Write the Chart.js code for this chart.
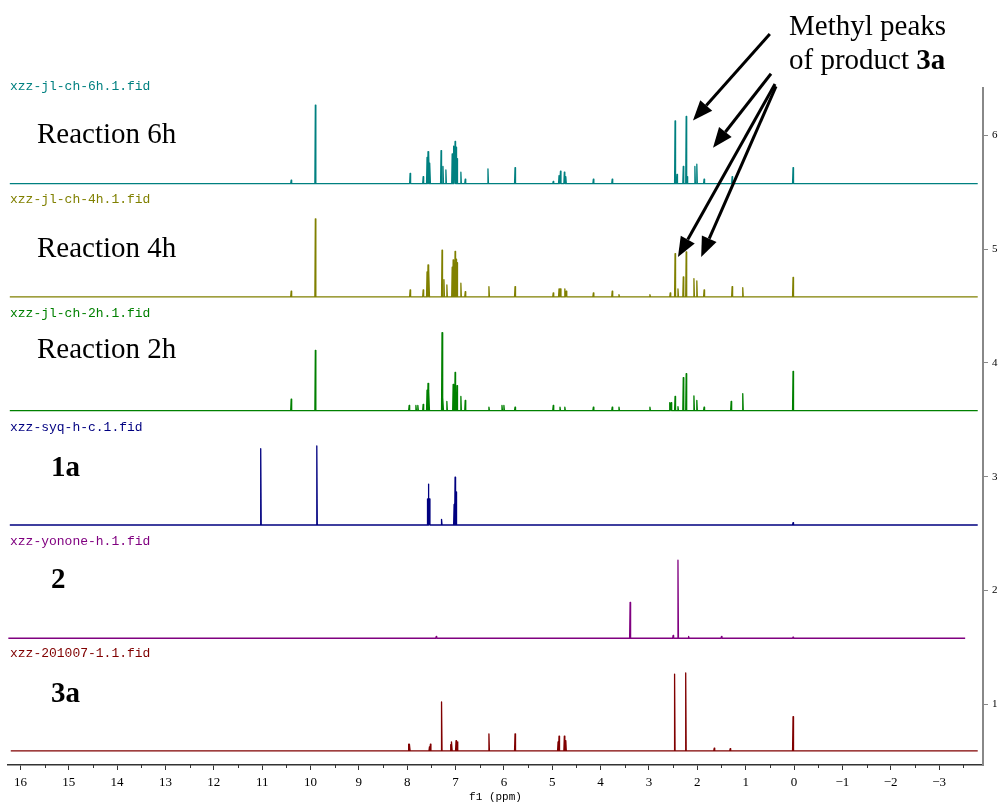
<!DOCTYPE html>
<html>
<head>
<meta charset="utf-8">
<script src="https://cdn.jsdelivr.net/npm/chart.js@4/dist/chart.umd.min.js"></script>
<style>
html, body { margin: 0; padding: 0; background: #fff; }
#wrap { width: 1003px; height: 804px; }
</style>
</head>
<body>
<div id="wrap"><canvas id="nmr" width="1003" height="804"></canvas></div>
<script>
// axis ticks
const ppmTicks = [16, 15, 14, 13, 12, 11, 10, 9, 8, 7, 6, 5, 4, 3, 2, 1, 0, -1, -2, -3];
const stackTicks = [1, 2, 3, 4, 5, 6];

// spectra, top to bottom
const fileNames = ['xzz-jl-ch-6h.1.fid', 'xzz-jl-ch-4h.1.fid', 'xzz-jl-ch-2h.1.fid',
                   'xzz-syq-h-c.1.fid', 'xzz-yonone-h.1.fid', 'xzz-201007-1.1.fid'];
const sampleNames = ['Reaction 6h', 'Reaction 4h', 'Reaction 2h', '1a', '2', '3a'];
const baselines = [5.575, 4.58, 3.58, 2.575, 1.58, 0.59];
const spanStart = [16.22, 16.22, 16.22, 16.22, 16.25, 16.2];
const spanEnd = [-3.8, -3.8, -3.8, -3.8, -3.54, -3.8];

// peak shifts (ppm) and heights
const shifts6h = [10.40, 9.90, 7.94, 7.67, 7.59, 7.57, 7.55, 7.53, 7.30, 7.26, 7.20, 7.07, 7.04, 7.01, 6.99, 6.97, 6.89, 6.80, 6.33, 5.77, 4.98, 4.86, 4.83, 4.75, 4.72, 4.15, 3.76, 2.46, 2.42, 2.29, 2.23, 2.21, 2.05, 2.01, 1.86, 1.28, 0.02];
const heights6h = [0.03, 0.69, 0.09, 0.06, 0.23, 0.28, 0.26, 0.18, 0.29, 0.15, 0.12, 0.26, 0.33, 0.37, 0.32, 0.22, 0.10, 0.04, 0.13, 0.14, 0.02, 0.07, 0.11, 0.10, 0.06, 0.04, 0.04, 0.55, 0.08, 0.15, 0.59, 0.06, 0.15, 0.17, 0.04, 0.06, 0.14];

const shifts4h = [10.40, 9.90, 7.94, 7.67, 7.59, 7.57, 7.55, 7.28, 7.24, 7.18, 7.07, 7.05, 7.01, 6.99, 6.97, 6.89, 6.80, 6.31, 5.77, 4.98, 4.86, 4.83, 4.74, 4.71, 4.15, 3.76, 3.62, 2.98, 2.56, 2.46, 2.40, 2.29, 2.23, 2.07, 2.01, 1.86, 1.28, 1.06, 0.02];
const heights4h = [0.05, 0.685, 0.06, 0.06, 0.22, 0.28, 0.25, 0.41, 0.15, 0.105, 0.26, 0.325, 0.40, 0.33, 0.30, 0.12, 0.045, 0.09, 0.09, 0.035, 0.07, 0.07, 0.07, 0.05, 0.035, 0.05, 0.02, 0.02, 0.035, 0.38, 0.07, 0.175, 0.395, 0.16, 0.14, 0.06, 0.09, 0.08, 0.17];

const shifts2h = [10.40, 9.90, 7.96, 7.82, 7.78, 7.67, 7.59, 7.57, 7.55, 7.28, 7.26, 7.18, 7.05, 7.01, 6.97, 6.89, 6.80, 6.31, 6.04, 6.00, 5.77, 4.98, 4.84, 4.74, 4.15, 3.76, 3.62, 2.98, 2.57, 2.54, 2.46, 2.40, 2.29, 2.23, 2.07, 2.01, 1.86, 1.30, 1.06, 0.02];
const heights2h = [0.10, 0.53, 0.045, 0.045, 0.045, 0.055, 0.18, 0.24, 0.18, 0.685, 0.115, 0.08, 0.23, 0.335, 0.22, 0.125, 0.09, 0.03, 0.045, 0.045, 0.03, 0.045, 0.03, 0.03, 0.03, 0.03, 0.03, 0.03, 0.07, 0.07, 0.125, 0.035, 0.29, 0.325, 0.13, 0.09, 0.03, 0.08, 0.15, 0.345];

const shifts1a = [11.03, 9.87, 7.58, 7.56, 7.54, 7.29, 7.03, 7.01, 6.99, 0.02];
const heights1a = [0.67, 0.695, 0.23, 0.36, 0.23, 0.05, 0.18, 0.42, 0.29, 0.02];

const shifts2 = [7.40, 3.39, 2.50, 2.40, 2.18, 1.50, 0.02];
const heights2 = [0.015, 0.315, 0.025, 0.685, 0.015, 0.015, 0.01];

const shifts3a = [7.97, 7.95, 7.54, 7.52, 7.29, 7.10, 7.08, 6.99, 6.96, 6.31, 5.77, 4.88, 4.86, 4.75, 4.72, 2.47, 2.24, 1.65, 1.32, 0.02];
const heights3a = [0.06, 0.06, 0.035, 0.06, 0.43, 0.055, 0.08, 0.09, 0.08, 0.15, 0.15, 0.08, 0.13, 0.13, 0.09, 0.675, 0.685, 0.025, 0.02, 0.30];

const allShifts = [shifts6h, shifts4h, shifts2h, shifts1a, shifts2, shifts3a];
const allHeights = [heights6h, heights4h, heights2h, heights1a, heights2, heights3a];

// arrows: [tail ppm, tail value, tip ppm, tip value]
const arrows = [
    [0.50, 6.89, 2.09, 6.13],
    [0.476, 6.54, 1.675, 5.89],
    [0.393, 6.45, 2.40, 4.93],
    [0.372, 6.43, 1.92, 4.93]
];

// styles
const lineColors = ['#008080', '#808000', '#008000', '#000080', '#800080', '#800000'];
const sampleBold = [false, false, false, true, true, true];
const sampleX = [37, 37, 37, 51, 51, 51];
const sampleDy = [-41, -40, -53, -49, -50, -49];
const peakHalfWidth = 0.01;

function buildSpectrum(shifts, heights, base, from, to) {
    const order = shifts.map((s, i) => i).sort((a, b) => shifts[b] - shifts[a]);
    const pts = [{ x: from, y: base }];
    order.forEach(i => {
        pts.push({ x: shifts[i] + peakHalfWidth, y: base });
        pts.push({ x: shifts[i], y: base + heights[i] });
        pts.push({ x: shifts[i] - peakHalfWidth, y: base });
    });
    pts.push({ x: to, y: base });
    return pts;
}

// texts, arrows and minor ticks
const annotations = {
    id: 'annotations',
    afterDraw(chart) {
        const { ctx, scales: { x, y } } = chart;
        ctx.save();

        ctx.strokeStyle = '#333';
        ctx.lineWidth = 1;
        ppmTicks.map(v => v - 0.5).forEach(v => {
            if (v > x.max || v < x.min) return;
            const px = Math.round(x.getPixelForValue(v)) + 0.5;
            ctx.beginPath();
            ctx.moveTo(px, y.bottom);
            ctx.lineTo(px, y.bottom + 3);
            ctx.stroke();
        });

        baselines.forEach((b, k) => {
            const py = y.getPixelForValue(b);
            ctx.fillStyle = lineColors[k];
            ctx.font = '13px "Liberation Mono"';
            ctx.textBaseline = 'middle';
            ctx.textAlign = 'left';
            ctx.fillText(fileNames[k], 10, py - 97);
            ctx.fillStyle = '#000';
            ctx.font = (sampleBold[k] ? 'bold ' : '') + '29px "Liberation Serif"';
            ctx.textBaseline = 'alphabetic';
            ctx.fillText(sampleNames[k], sampleX[k], py + sampleDy[k]);
        });

        ctx.fillStyle = '#000';
        ctx.font = '29px "Liberation Serif"';
        ctx.fillText('Methyl peaks', 789, 35);
        ctx.fillText('of product ', 789, 69);
        const w = ctx.measureText('of product ').width;
        ctx.font = 'bold 29px "Liberation Serif"';
        ctx.fillText('3a', 789 + w, 69);

        ctx.strokeStyle = '#000';
        ctx.lineWidth = 3;
        arrows.forEach(a => {
            const x0 = x.getPixelForValue(a[0]), y0 = y.getPixelForValue(a[1]);
            const x1 = x.getPixelForValue(a[2]), y1 = y.getPixelForValue(a[3]);
            const ang = Math.atan2(y1 - y0, x1 - x0);
            const head = 20, half = 8;
            const bx = x1 - head * Math.cos(ang), by = y1 - head * Math.sin(ang);
            ctx.beginPath();
            ctx.moveTo(x0, y0);
            ctx.lineTo(bx, by);
            ctx.stroke();
            ctx.beginPath();
            ctx.moveTo(x1, y1);
            ctx.lineTo(bx + half * Math.sin(ang), by - half * Math.cos(ang));
            ctx.lineTo(bx - half * Math.sin(ang), by + half * Math.cos(ang));
            ctx.closePath();
            ctx.fill();
        });
        ctx.restore();
    }
};

new Chart(document.getElementById('nmr'), {
    type: 'line',
    data: {
        datasets: fileNames.map((name, k) => ({
            label: name,
            data: buildSpectrum(allShifts[k], allHeights[k], baselines[k], spanStart[k], spanEnd[k]),
            borderColor: lineColors[k],
            borderWidth: 1.3,
            borderJoinStyle: 'round',
            pointRadius: 0,
            tension: 0,
            fill: false
        }))
    },
    options: {
        responsive: false,
        animation: false,
        devicePixelRatio: 1,
        parsing: false,
        normalized: true,
        layout: { padding: { left: 8, top: 88, right: 0, bottom: 0 } },
        plugins: { legend: { display: false }, tooltip: { enabled: false } },
        scales: {
            x: {
                type: 'linear',
                reverse: true,
                min: -3.909,
                max: 16.257,
                afterBuildTicks: s => { s.ticks = ppmTicks.map(v => ({ value: v })); },
                afterFit: s => { s.height = 39; },
                border: { color: '#333', width: 1.5 },
                grid: { drawOnChartArea: false, drawTicks: true, tickLength: 5, color: '#333' },
                ticks: {
                    font: { family: 'Liberation Serif', size: 13 },
                    color: '#000',
                    padding: 5,
                    maxRotation: 0,
                    autoSkip: false,
                    callback: v => String(v).replace('-', '\u2212')
                },
                title: {
                    display: true,
                    text: 'f1 (ppm)',
                    font: { family: 'Liberation Mono', size: 11 },
                    color: '#000',
                    padding: { top: 0, bottom: 0 }
                }
            },
            y: {
                type: 'linear',
                position: 'right',
                min: 0.466,
                max: 6.415,
                afterBuildTicks: s => { s.ticks = stackTicks.map(v => ({ value: v })); },
                afterFit: s => { s.width = 20; },
                border: { color: '#888', width: 2 },
                grid: { drawOnChartArea: false, drawTicks: true, tickLength: 5, color: '#888' },
                ticks: {
                    font: { family: 'Liberation Serif', size: 11 },
                    color: '#000',
                    padding: 4
                }
            }
        }
    },
    plugins: [annotations]
});
</script>
</body>
</html>
